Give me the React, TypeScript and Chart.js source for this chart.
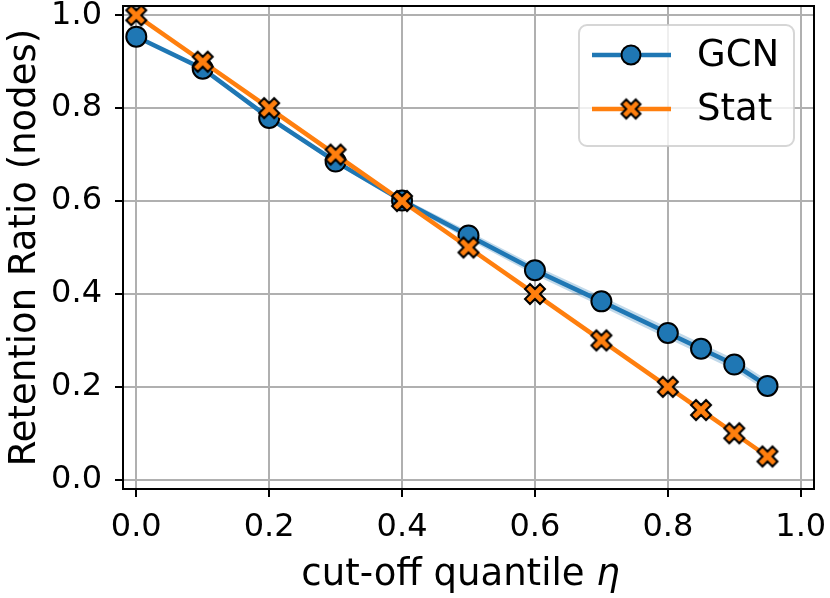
import React, { useEffect, useRef } from 'react';
import { Chart, registerables } from 'chart.js';

Chart.register(...registerables);

// ---- data ----
const quantiles = [0, 0.1, 0.2, 0.3, 0.4, 0.5, 0.6, 0.7, 0.8, 0.85, 0.9, 0.95];
const gcnRetention = [0.954, 0.885, 0.779, 0.685, 0.601, 0.526, 0.451, 0.384, 0.316, 0.282, 0.248, 0.202];
const gcnSpread = [0.003, 0.004, 0.005, 0.005, 0.006, 0.009, 0.010, 0.011, 0.012, 0.012, 0.012, 0.012];
const statRetention = [1.0, 0.9, 0.8, 0.7, 0.6, 0.5, 0.4, 0.3, 0.2, 0.15, 0.1, 0.05];
const seriesLabels = ['GCN', 'Stat'];
const xTitleMain = 'cut-off quantile ';
const xTitleSymbol = 'η';
const yTitle = 'Retention Ratio (nodes)';

const BLUE = '#1f77b4';
const ORANGE = '#ff7f0e';
const FONT = "'DejaVu Sans', sans-serif";
const TOP = 6;
const BOTTOM = 489;
const LEFT = 123;
const RIGHT = 814;

function makeXMarker(half: number): HTMLCanvasElement {
  const size = Math.ceil(half * 2 + 6);
  const c = document.createElement('canvas');
  c.width = size;
  c.height = size;
  const ctx = c.getContext('2d')!;
  const pts = [
    [-1, -2], [0, -1], [1, -2], [2, -1], [1, 0], [2, 1],
    [1, 2], [0, 1], [-1, 2], [-2, 1], [-1, 0], [-2, -1],
  ];
  const s = half / 2;
  ctx.translate(size / 2, size / 2);
  ctx.beginPath();
  pts.forEach(([px, py], i) => {
    if (i === 0) ctx.moveTo(px * s, py * s);
    else ctx.lineTo(px * s, py * s);
  });
  ctx.closePath();
  ctx.fillStyle = ORANGE;
  ctx.fill();
  ctx.lineWidth = 2;
  ctx.lineJoin = 'miter';
  ctx.strokeStyle = '#000';
  ctx.stroke();
  return c;
}

const framePlugin = {
  id: 'frameAndLegend',
  afterDraw(chart: any) {
    const { ctx, chartArea } = chart;
    const { left, right, top, bottom } = chartArea;
    ctx.save();
    ctx.strokeStyle = '#000';
    ctx.lineWidth = 2;
    ctx.beginPath();
    ctx.rect(left, top, right - left, bottom - top);
    ctx.stroke();

    // axis titles
    ctx.fillStyle = '#000';
    ctx.textBaseline = 'alphabetic';
    ctx.textAlign = 'left';
    ctx.font = `37px ${FONT}`;
    const w1 = ctx.measureText(xTitleMain).width;
    ctx.font = `italic 37px ${FONT}`;
    const w2 = ctx.measureText(xTitleSymbol).width;
    const cx = (left + right) / 2 - 8;
    const sx = cx - (w1 + w2) / 2;
    ctx.font = `37px ${FONT}`;
    ctx.fillText(xTitleMain, sx, 585);
    ctx.font = `italic 37px ${FONT}`;
    ctx.fillText(xTitleSymbol, sx + w1, 585);

    ctx.save();
    ctx.translate(35, (top + bottom) / 2);
    ctx.rotate(-Math.PI / 2);
    ctx.font = `37px ${FONT}`;
    ctx.textAlign = 'center';
    ctx.fillText(yTitle, 0, 0);
    ctx.restore();

    // legend
    const bx = 579, by = 25, bw = 215, bh = 121, r = 8;
    ctx.beginPath();
    ctx.moveTo(bx + r, by);
    ctx.lineTo(bx + bw - r, by);
    ctx.arcTo(bx + bw, by, bx + bw, by + r, r);
    ctx.lineTo(bx + bw, by + bh - r);
    ctx.arcTo(bx + bw, by + bh, bx + bw - r, by + bh, r);
    ctx.lineTo(bx + r, by + bh);
    ctx.arcTo(bx, by + bh, bx, by + bh - r, r);
    ctx.lineTo(bx, by + r);
    ctx.arcTo(bx, by, bx + r, by, r);
    ctx.closePath();
    ctx.fillStyle = 'rgba(255,255,255,0.8)';
    ctx.fill();
    ctx.strokeStyle = 'rgba(204,204,204,0.8)';
    ctx.lineWidth = 2;
    ctx.stroke();

    const rows = [55, 109];
    const colors = [BLUE, ORANGE];
    rows.forEach((y, i) => {
      ctx.strokeStyle = colors[i];
      ctx.lineWidth = 4.5;
      ctx.lineCap = 'butt';
      ctx.beginPath();
      ctx.moveTo(592, y);
      ctx.lineTo(671, y);
      ctx.stroke();
      if (i === 0) {
        ctx.beginPath();
        ctx.arc(631, y, 9.5, 0, Math.PI * 2);
        ctx.fillStyle = BLUE;
        ctx.fill();
        ctx.lineWidth = 2;
        ctx.strokeStyle = '#000';
        ctx.stroke();
      } else {
        const m = makeXMarker(9.5);
        ctx.drawImage(m, 631 - m.width / 2, y - m.height / 2);
      }
      ctx.fillStyle = '#000';
      ctx.font = `37px ${FONT}`;
      ctx.textAlign = 'left';
      ctx.textBaseline = 'middle';
      ctx.fillText(seriesLabels[i], 697, y + 1);
    });
    ctx.restore();
  },
};

export default function App() {
  const ref = useRef<HTMLCanvasElement | null>(null);

  useEffect(() => {
    if (!ref.current) return;
    const xMarker = makeXMarker(10);
    const gcnPts = quantiles.map((x, i) => ({ x, y: gcnRetention[i] }));
    const upper = quantiles.map((x, i) => ({ x, y: gcnRetention[i] + gcnSpread[i] }));
    const lower = quantiles.map((x, i) => ({ x, y: gcnRetention[i] - gcnSpread[i] }));
    const statPts = quantiles.map((x, i) => ({ x, y: statRetention[i] }));

    const chart = new Chart(ref.current, {
      type: 'line',
      data: {
        datasets: [
          {
            label: seriesLabels[1],
            data: statPts,
            borderColor: ORANGE,
            borderWidth: 4.5,
            pointStyle: xMarker as any,
            pointRadius: 11,
            order: 0,
            tension: 0,
          },
          {
            label: seriesLabels[0],
            data: gcnPts,
            borderColor: BLUE,
            backgroundColor: BLUE,
            borderWidth: 4.5,
            pointRadius: 10,
            pointBorderWidth: 2,
            pointBorderColor: '#000',
            pointBackgroundColor: BLUE,
            order: 1,
            tension: 0,
          },
          {
            label: 'gcn-upper',
            data: upper,
            borderWidth: 0,
            pointRadius: 0,
            backgroundColor: 'rgba(31,119,180,0.28)',
            fill: '+1',
            order: 2,
          },
          {
            label: 'gcn-lower',
            data: lower,
            borderWidth: 0,
            pointRadius: 0,
            fill: false,
            order: 3,
          },
        ],
      },
      options: {
        animation: false,
        responsive: false,
        layout: { padding: { left: 0, right: 0, top: 0, bottom: 0 } },
        plugins: { legend: { display: false }, tooltip: { enabled: false } },
        scales: {
          x: {
            type: 'linear',
            min: -0.02,
            max: 1.02,
            afterFit(scale: any) {
              scale.height = 598 - BOTTOM;
              scale.paddingLeft = 0;
              scale.paddingRight = 0;
            },
            ticks: {
              stepSize: 0.2,
              includeBounds: false,
              padding: 11,
              color: '#000',
              font: { family: FONT, size: 32 },
              callback: (v: any) => Number(v).toFixed(1),
              maxRotation: 0,
            },
            grid: {
              color: '#b0b0b0',
              lineWidth: 2,
              tickLength: 8,
              tickColor: '#000',
              tickWidth: 2,
            },
            border: { color: '#000', width: 2 },
          },
          y: {
            type: 'linear',
            min: -0.02,
            max: 1.02,
            afterFit(scale: any) {
              scale.width = LEFT;
              scale.paddingTop = 0;
              scale.paddingBottom = 0;
            },
            ticks: {
              stepSize: 0.2,
              includeBounds: false,
              padding: 13,
              color: '#000',
              font: { family: FONT, size: 32 },
              callback: (v: any) => Number(v).toFixed(1),
            },
            grid: {
              color: '#b0b0b0',
              lineWidth: 2,
              tickLength: 8,
              tickColor: '#000',
              tickWidth: 2,
            },
            border: { color: '#000', width: 2 },
          },
        },
      },
      plugins: [
        {
          id: 'fixArea',
          afterLayout(chart: any) {
            // pin the plotting area to the reference frame
            const ca = chart.chartArea;
            ca.left = LEFT; ca.right = RIGHT; ca.top = TOP; ca.bottom = BOTTOM;
            ca.width = RIGHT - LEFT; ca.height = BOTTOM - TOP;
            const xs = chart.scales.x;
            const ys = chart.scales.y;
            xs.left = LEFT; xs.right = RIGHT; xs.width = RIGHT - LEFT;
            xs.top = BOTTOM; xs.bottom = 598; xs.height = 598 - BOTTOM;
            ys.top = TOP; ys.bottom = BOTTOM; ys.height = BOTTOM - TOP;
            ys.left = 0; ys.right = LEFT; ys.width = LEFT;
            xs.configure();
            ys.configure();
          },
        },
        framePlugin,
      ],
    });
    return () => chart.destroy();
  }, []);

  return (
    <div style={{ position: 'fixed', left: 0, top: 0, width: 830, height: 598, background: '#fff' }}>
      <canvas ref={ref} width={830} height={598} style={{ width: 830, height: 598, display: 'block' }} />
    </div>
  );
}
